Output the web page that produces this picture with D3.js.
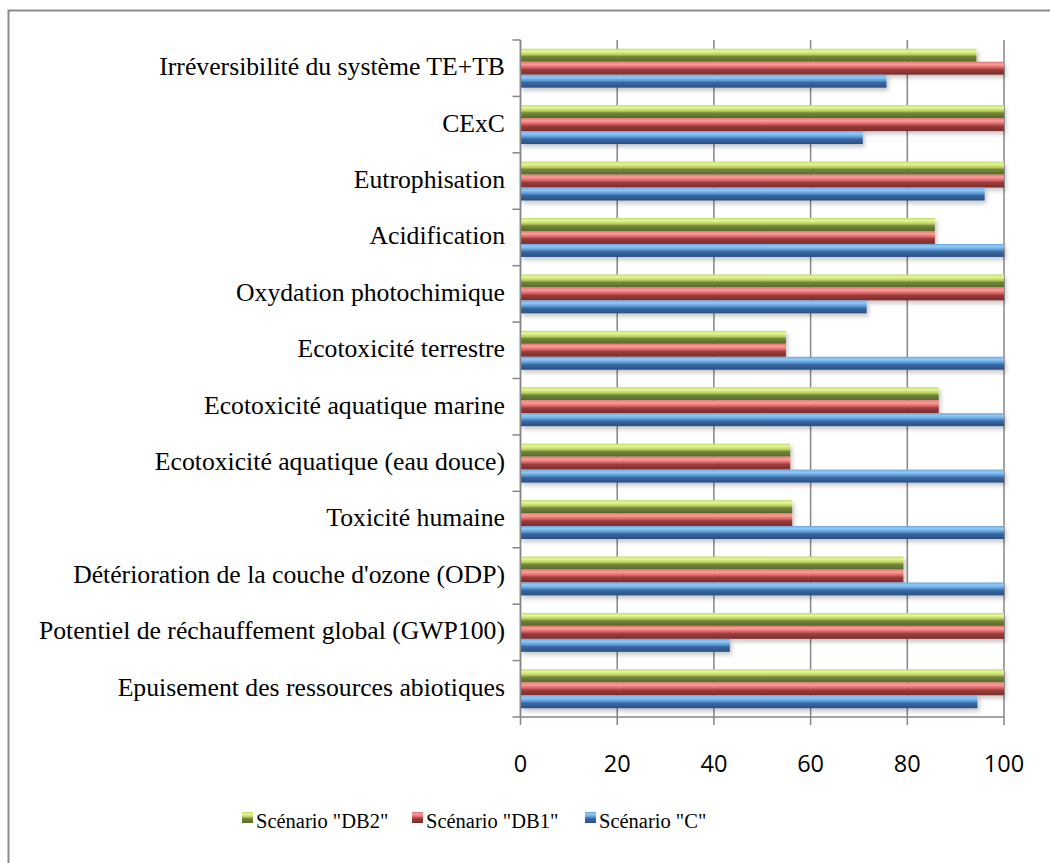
<!DOCTYPE html>
<html><head><meta charset="utf-8">
<script src="https://cdn.jsdelivr.net/npm/d3@7"></script>
<style>body{margin:0;background:#fff}svg{display:block}</style>
</head><body>
<svg id="chart" width="1050" height="863"></svg>
<script>
const categories = [
  "Irréversibilité du système TE+TB",
  "CExC",
  "Eutrophisation",
  "Acidification",
  "Oxydation photochimique",
  "Ecotoxicité terrestre",
  "Ecotoxicité aquatique marine",
  "Ecotoxicité aquatique (eau douce)",
  "Toxicité humaine",
  "Détérioration de la couche d'ozone (ODP)",
  "Potentiel de réchauffement global (GWP100)",
  "Epuisement des ressources abiotiques"
];
const seriesNames = ['Scénario "DB2"', 'Scénario "DB1"', 'Scénario "C"'];
const valuesDB2 = [94.3, 100, 100, 85.7, 100, 54.9, 86.5, 55.8, 56.2, 79.2, 100, 100];
const valuesDB1 = [100, 100, 100, 85.7, 100, 54.9, 86.5, 55.8, 56.2, 79.2, 100, 100];
const valuesC   = [75.7, 70.8, 96, 100, 71.6, 100, 100, 100, 100, 100, 43.3, 94.5];
const xTicks = [0, 20, 40, 60, 80, 100];

const series = [valuesDB2, valuesDB1, valuesC];
const grads = [
  {id:"gGreen", stops:[["0","#c5dc6a"],["0.2","#e4f894"],["0.45","#b7cf5e"],["0.6","#74883c"],["1","#56682a"]]},
  {id:"gRed", stops:[["0","#e57373"],["0.2","#ff9c9c"],["0.45","#d86464"],["0.6","#9a3e3e"],["1","#7a2c2c"]]},
  {id:"gBlue", stops:[["0","#6aa8e2"],["0.2","#8fcaf8"],["0.45","#5d9ad6"],["0.6","#3a6aa4"],["1","#2a4f80"]]}
];

const svg = d3.select("#chart");
const defs = svg.append("defs");
grads.forEach(g => {
  const lg = defs.append("linearGradient").attr("id", g.id).attr("x1",0).attr("y1",0).attr("x2",0).attr("y2",1);
  g.stops.forEach(s => lg.append("stop").attr("offset", s[0]).attr("stop-color", s[1]));
});
const f = defs.append("filter").attr("id","shadow").attr("x","-5%").attr("y","-30%").attr("width","110%").attr("height","180%");
f.append("feDropShadow").attr("dx",2).attr("dy",3).attr("stdDeviation",2).attr("flood-color","#000").attr("flood-opacity",0.22);

// outer frame
svg.append("rect").attr("x",8.5).attr("y",10.5).attr("width",1100).attr("height",900)
  .attr("fill","none").attr("stroke","#8c8c8c").attr("stroke-width",2);

const x = d3.scaleLinear().domain([0,100]).range([520.5, 1004]);
const y = d3.scaleBand().domain(categories).range([40, 717]).paddingInner(0.31).paddingOuter(0.155);
const yInner = d3.scaleBand().domain(d3.range(series.length)).range([0, y.bandwidth()]);

// gridlines
svg.append("g").selectAll("line").data(xTicks).join("line")
  .attr("x1", d => x(d)).attr("x2", d => x(d))
  .attr("y1", 40).attr("y2", 725)
  .attr("stroke", "#868686").attr("stroke-width", 1.5);

// bars
const gb = svg.append("g").attr("filter","url(#shadow)");
categories.forEach((c, i) => {
  series.forEach((vals, s) => {
    gb.append("rect")
      .attr("x", x(0))
      .attr("y", y(c) + yInner(s))
      .attr("width", x(vals[i]) - x(0))
      .attr("height", yInner.bandwidth())
      .attr("fill", `url(#${grads[s].id})`);
  });
});

// y axis
const yAxisG = svg.append("g").attr("transform", "translate(520.5,0)");
yAxisG.append("line").attr("x1",0).attr("x2",0).attr("y1",40).attr("y2",717).attr("stroke","#868686").attr("stroke-width",1.5);
const bounds = d3.range(categories.length + 1).map(k => 40 + k * y.step());
yAxisG.selectAll("line.tk").data(bounds).join("line").attr("class","tk")
  .attr("x1",-8).attr("x2",0).attr("y1",d=>d).attr("y2",d=>d).attr("stroke","#868686").attr("stroke-width",1.5);
svg.append("g").selectAll("text").data(categories).join("text")
  .attr("x", 505).attr("y", d => y(d) + y.bandwidth()/2 + 1)
  .attr("text-anchor","end").attr("dominant-baseline","middle")
  .attr("font-family","'Liberation Serif', 'Times New Roman', serif").attr("font-size",25.7)
  .attr("fill","#000").text(d => d);

// x axis
svg.append("line").attr("x1",520.5).attr("x2",1004).attr("y1",717).attr("y2",717).attr("stroke","#868686").attr("stroke-width",1.5);
svg.append("g").selectAll("text").data(xTicks).join("text")
  .attr("x", d => x(d)).attr("y", 772)
  .attr("text-anchor","middle")
  .attr("font-family","'Open Sans', 'Liberation Sans', sans-serif").attr("font-size",23.5)
  .attr("fill","#000").text(d => d);

// legend
const legendX = [242, 412, 585];
const lg = svg.append("g");
seriesNames.forEach((n, s) => {
  lg.append("rect").attr("x", legendX[s]).attr("y", 812).attr("width", 11).attr("height", 11)
    .attr("fill", `url(#${grads[s].id})`);
  lg.append("text").attr("x", legendX[s] + 14).attr("y", 828)
    .attr("font-family","'Liberation Serif', 'Times New Roman', serif").attr("font-size",20.5)
    .attr("fill","#000").text(n);
});
</script>
</body></html>
